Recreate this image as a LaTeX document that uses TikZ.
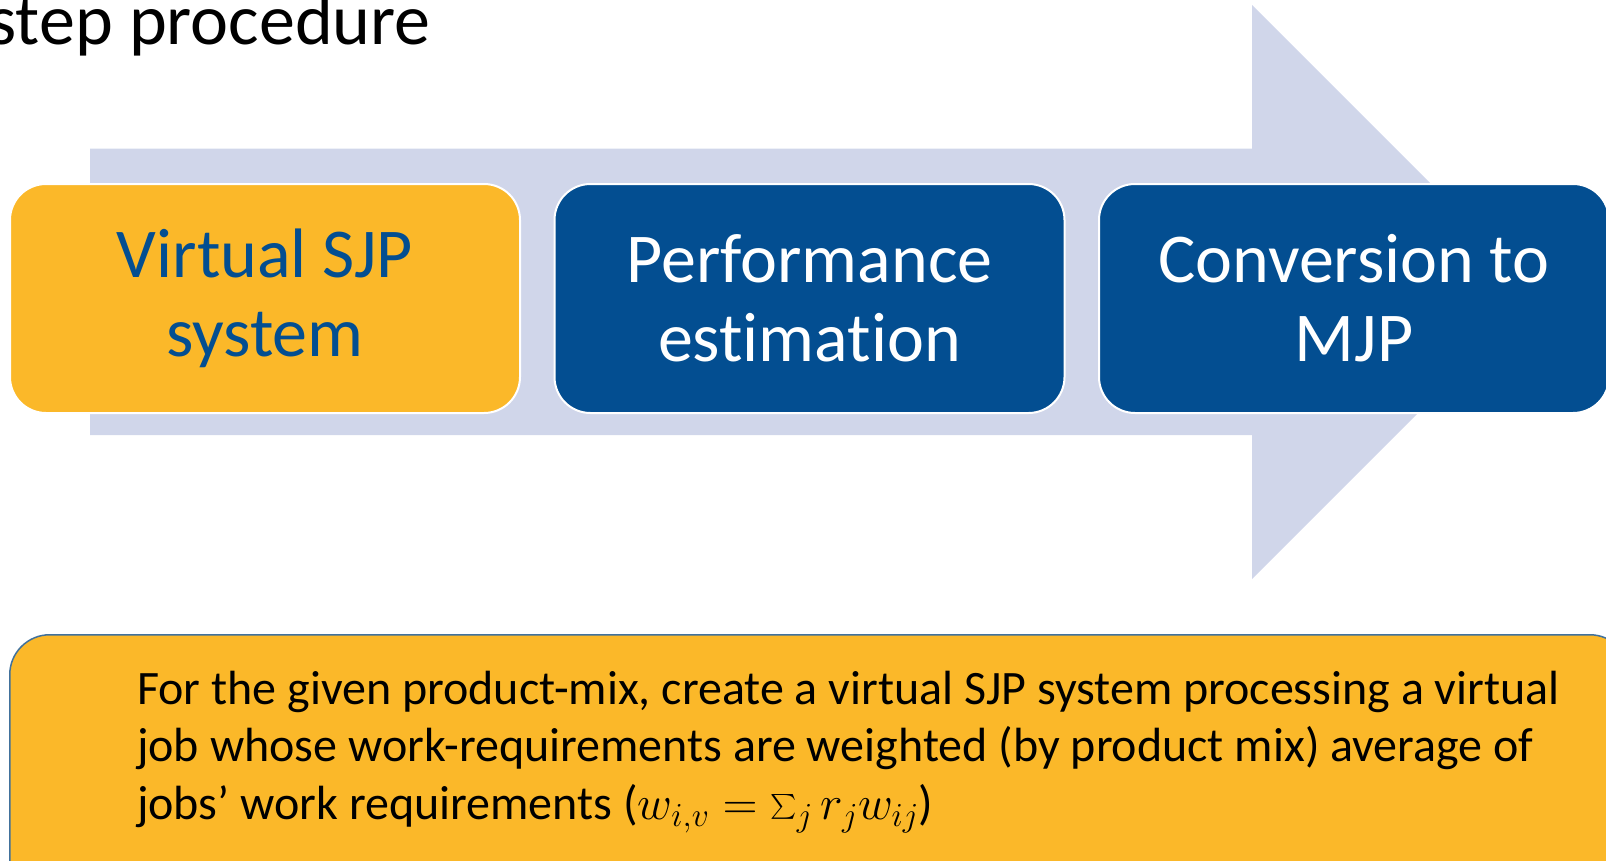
\documentclass[tikz,border=0pt]{standalone}
\usepackage{fix-cm}
\usepackage{exscale}
\usepackage{fontspec}
\setmainfont{Carlito}[Ligatures=NoCommon]
\definecolor{arrowfill}{HTML}{D0D6EA}
\definecolor{gold}{HTML}{FBB829}
\definecolor{navy}{HTML}{034E91}
\definecolor{boxline}{HTML}{41719C}
\tikzset{
  stepbox/.style={rectangle, rounded corners=36pt, draw=white, line width=2pt,
    minimum width=510pt, minimum height=229pt, inner sep=0pt,
    align=center, font=\fontsize{70}{79}\selectfont},
  activebox/.style={stepbox, fill=gold, text=navy},
  plainbox/.style={stepbox, fill=navy, text=white},
  notebox/.style={rectangle, rounded corners=40pt, draw=boxline, line width=1.5pt,
    fill=gold, inner sep=0pt},
  notetext/.style={inner sep=0pt, text=black, align=left,
    font=\fontsize{48}{57.5}\selectfont}
}
\begin{document}
\begin{tikzpicture}[x=1pt,y=-1pt]
  \useasboundingbox (0,0) rectangle (1606,860);
  \clip (0,0) rectangle (1606,860);

  % heading (its upper part runs off the top edge)
  \node[anchor=base east, inner sep=0pt, font=\fontsize{72}{86}\selectfont]
    (title) at (431,44) {step procedure};

  % background process arrow
  \fill[arrowfill] (90,148.5) -- (1252,148.5) -- (1252,5) -- (1539,292)
    -- (1252,579) -- (1252,435) -- (90,435) -- cycle;

  % the three steps
  \node[activebox] (s1) at (265,298.5) {Virtual SJP\\system};
  \node[plainbox]  (s2) at (809.5,298.5) {Performance\\estimation};
  \node[plainbox]  (s3) at (1354,298.5) {Conversion to\\MJP};

  % explanation of the highlighted step
  \node[notebox, minimum width=1620pt, minimum height=300pt, anchor=north west]
    (note) at (9,634) {};
  \node[notetext, anchor=base west] (notetxt) at (137,819)
    {For the given product-mix, create a virtual SJP system processing a virtual\\
     job whose work-requirements are weighted (by product mix) average of\\
     jobs’ work requirements ($w_{i,v} = \sum_j r_j w_{ij}$)};
\end{tikzpicture}
\end{document}
